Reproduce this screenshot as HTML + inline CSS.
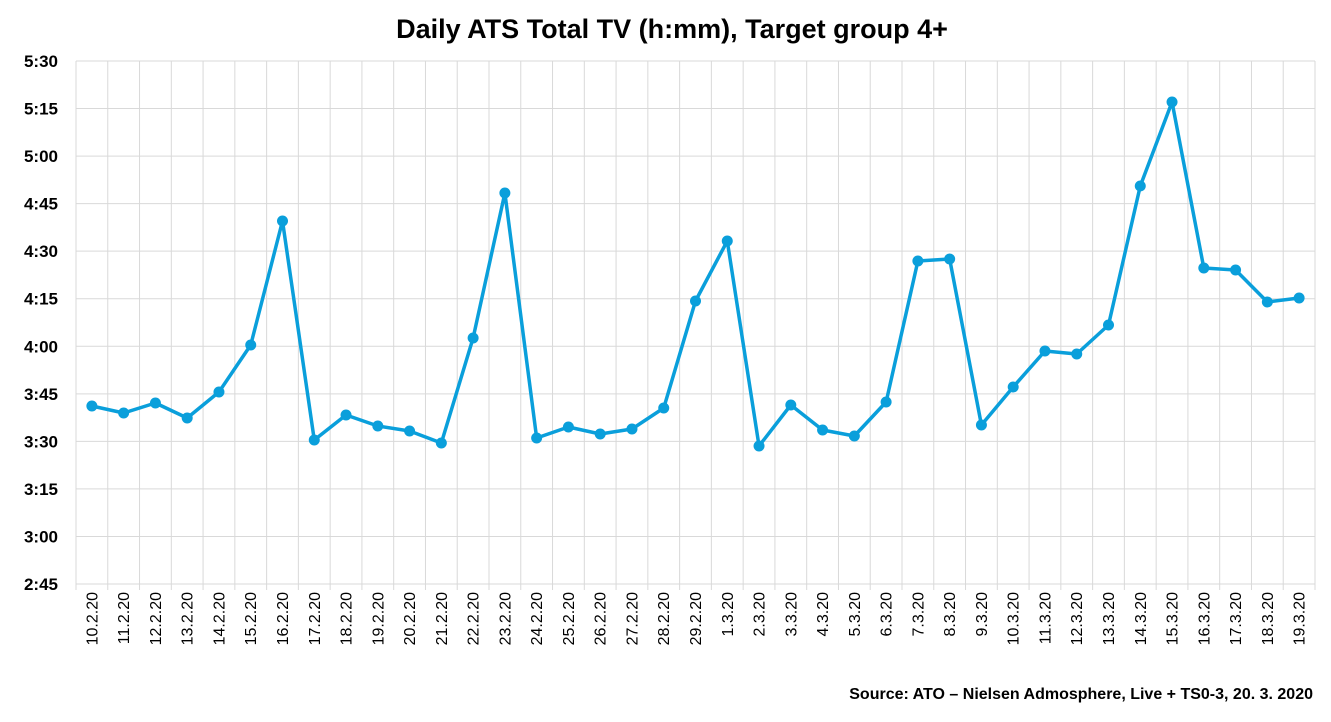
<!DOCTYPE html>
<html><head><meta charset="utf-8"><style>
body{margin:0;background:#fff;width:1331px;height:717px;overflow:hidden;font-family:"Liberation Sans",Arial,sans-serif}
</style></head><body>
<svg width="1331" height="717" xmlns="http://www.w3.org/2000/svg" font-family="Liberation Sans, Arial, sans-serif">
<text x="672" y="38" text-anchor="middle" font-size="27" font-weight="bold">Daily ATS Total TV (h:mm), Target group 4+</text>
<g id="grid" stroke="#d9d9d9" stroke-width="1"></g>
<g id="ylab" font-size="17" font-weight="bold" text-anchor="end"></g>
<g id="xlab" font-size="16"></g>
<polyline id="line" fill="none" stroke="#0a9fdb" stroke-width="3.5" stroke-linejoin="round"/>
<g id="dots" fill="#0a9fdb"></g>
<text x="1313" y="699" text-anchor="end" font-size="16" font-weight="bold">Source: ATO – Nielsen Admosphere, Live + TS0-3, 20. 3. 2020</text>
</svg>
<script>
const ns="http://www.w3.org/2000/svg";
function el(t,a,p,txt){const e=document.createElementNS(ns,t);for(const k in a)e.setAttribute(k,a[k]);if(txt)e.textContent=txt;document.getElementById(p).appendChild(e);}
const x0=76,x1=1315,y0=61,y1=584,n=39,w=(x1-x0)/n,h=(y1-y0)/11;
const yl=["5:30","5:15","5:00","4:45","4:30","4:15","4:00","3:45","3:30","3:15","3:00","2:45"];
for(let i=0;i<=11;i++){const y=y0+i*h;el("line",{x1:x0,x2:x1,y1:y,y2:y},"grid");el("text",{x:58,y:y+6},"ylab",yl[i]);}
for(let i=0;i<=n;i++){const x=x0+i*w;el("line",{x1:x,x2:x,y1:y0,y2:y1+6},"grid");}
const d=[];for(let i=10;i<=29;i++)d.push(i+".2.20");for(let i=1;i<=19;i++)d.push(i+".3.20");
const v=[406,413,403,418,392,345,221,440,415,426,431,443,338,193,438,427,434,429,408,301,241,446,405,430,436,402,261,259,425,387,351,354,325,186,102,268,270,302,298];
let pts=[];
d.forEach((s,i)=>{const x=x0+w*(i+.5);pts.push(x+","+v[i]);el("circle",{cx:x,cy:v[i],r:5.5},"dots");
el("text",{x:0,y:0,transform:`translate(${x+5.5},592) rotate(-90)`,"text-anchor":"end"},"xlab",s);});
document.getElementById("line").setAttribute("points",pts.join(" "));
</script>
</body></html>
